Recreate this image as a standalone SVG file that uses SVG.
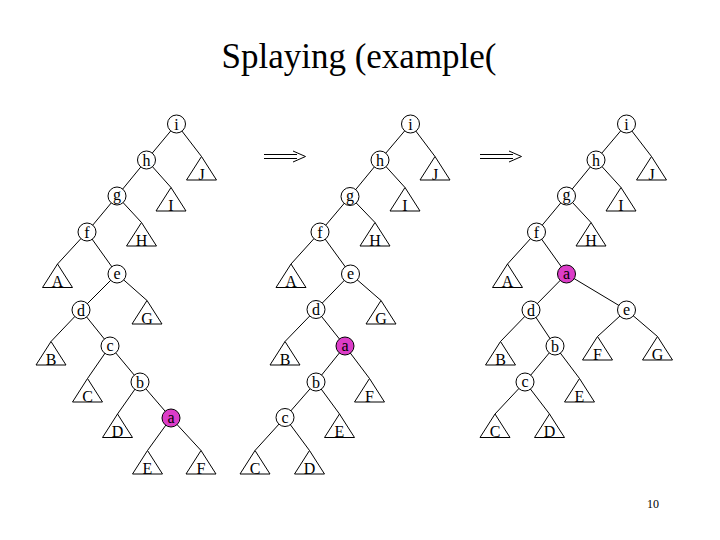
<svg xmlns="http://www.w3.org/2000/svg" xmlns:xlink="http://www.w3.org/1999/xlink" width="720" height="540" viewBox="0 0 720 540">
<style>
.e{stroke:#000;stroke-width:1;fill:none}
.n{fill:#fff;stroke:#000;stroke-width:1}
.m{fill:#DC3CC8;stroke:#000;stroke-width:1}
.t{fill:#fff;stroke:#000;stroke-width:1}
.l{font-family:"Liberation Serif","Times New Roman",serif;font-size:16px;text-anchor:middle;fill:#000}
.pg{font-family:"Liberation Serif","Times New Roman",serif;font-size:12px;text-anchor:middle;fill:#000}
</style>
<defs>
<path id="tri" d="M0,0 L15,23.5 L-15,23.5 Z"/>
</defs>
<rect width="720" height="540" fill="#fff"/>
<text x="359" y="68" font-family="'Liberation Serif','Times New Roman',serif" font-size="35" text-anchor="middle" fill="#000">Splaying (example(</text>
<g id="connectors" class="e">
<path d="M176.5,124 L146.5,160 M176.5,124 L201.5,156.5 M146.5,160 L117,196 M146.5,160 L171,187.5 M117,196 L87,232 M117,196 L141.5,222.5 M87,232 L57.5,264 M87,232 L117,274 M117,274 L81,310 M117,274 L147,300.5 M81,310 L51,341.5 M81,310 L110,346 M110,346 L87.5,378.5 M110,346 L140,382 M140,382 L117.5,414 M140,382 L171,418 M171,418 L147.5,450.5 M171,418 L201,450.5"/>
<path d="M410.5,124 L380,160 M410.5,124 L435,156.5 M380,160 L350,196.5 M380,160 L405,187.5 M350,196.5 L320,232 M350,196.5 L375,222.5 M320,232 L291,264 M320,232 L350.5,274 M350.5,274 L316,309.5 M350.5,274 L381,300.5 M316,309.5 L285,341.5 M316,309.5 L345,346 M345,346 L316,382 M345,346 L369.5,378.5 M316,382 L285,417.5 M316,382 L339.5,414 M285,417.5 L255,450.5 M285,417.5 L309.5,450.5"/>
<path d="M626.5,124 L596,160 M626.5,124 L651.5,156.5 M596,160 L566.5,196 M596,160 L621,187.5 M566.5,196 L536.5,232 M566.5,196 L591,222.5 M536.5,232 L507.5,264 M536.5,232 L566.5,274 M566.5,274 L531,310 M566.5,274 L626.5,310 M531,310 L500.5,341.5 M531,310 L555,346 M555,346 L525,382 M555,346 L579.5,378.5 M525,382 L495,414 M525,382 L549.5,414 M626.5,310 L597.5,336.5 M626.5,310 L657.5,336.5"/>
<path d="M264,154.5 H297 M264,158.5 H297 M293,151 L305.5,156.5 L293,162"/>
<path d="M480,154.5 H513 M480,158.5 H513 M509,151 L521.5,156.5 L509,162"/>
</g>
<g id="t1-i"><circle class="n" cx="176.5" cy="124" r="9"/><text class="l" x="176.5" y="129.5">i</text></g>
<g id="t1-h"><circle class="n" cx="146.5" cy="160" r="9"/><text class="l" x="146.5" y="165.5">h</text></g>
<g id="t1-g"><circle class="n" cx="117" cy="196" r="9"/><text class="l" x="117" y="200">g</text></g>
<g id="t1-f"><circle class="n" cx="87" cy="232" r="9"/><text class="l" x="87" y="237.5">f</text></g>
<g id="t1-e"><circle class="n" cx="117" cy="274" r="9"/><text class="l" x="117" y="279">e</text></g>
<g id="t1-d"><circle class="n" cx="81" cy="310" r="9"/><text class="l" x="81" y="315.5">d</text></g>
<g id="t1-c"><circle class="n" cx="110" cy="346" r="9"/><text class="l" x="110" y="351">c</text></g>
<g id="t1-b"><circle class="n" cx="140" cy="382" r="9"/><text class="l" x="140" y="387.5">b</text></g>
<g id="t1-a"><circle class="m" cx="171" cy="418" r="9"/><text class="l" x="171" y="423">a</text></g>
<g id="t1-J"><use xlink:href="#tri" class="t" x="201.5" y="156.5"/><text class="l" x="201.5" y="179.5">J</text></g>
<g id="t1-I"><use xlink:href="#tri" class="t" x="171" y="187.5"/><text class="l" x="171" y="210.5">I</text></g>
<g id="t1-H"><use xlink:href="#tri" class="t" x="141.5" y="222.5"/><text class="l" x="141.5" y="245.5">H</text></g>
<g id="t1-A"><use xlink:href="#tri" class="t" x="57.5" y="264"/><text class="l" x="57.5" y="287">A</text></g>
<g id="t1-G"><use xlink:href="#tri" class="t" x="147" y="300.5"/><text class="l" x="147" y="323.5">G</text></g>
<g id="t1-B"><use xlink:href="#tri" class="t" x="51" y="341.5"/><text class="l" x="51" y="364.5">B</text></g>
<g id="t1-C"><use xlink:href="#tri" class="t" x="87.5" y="378.5"/><text class="l" x="87.5" y="401.5">C</text></g>
<g id="t1-D"><use xlink:href="#tri" class="t" x="117.5" y="414"/><text class="l" x="117.5" y="437">D</text></g>
<g id="t1-E"><use xlink:href="#tri" class="t" x="147.5" y="450.5"/><text class="l" x="147.5" y="473.5">E</text></g>
<g id="t1-F"><use xlink:href="#tri" class="t" x="201" y="450.5"/><text class="l" x="201" y="473.5">F</text></g>
<g id="t2-i"><circle class="n" cx="410.5" cy="124" r="9"/><text class="l" x="410.5" y="129.5">i</text></g>
<g id="t2-h"><circle class="n" cx="380" cy="160" r="9"/><text class="l" x="380" y="165.5">h</text></g>
<g id="t2-g"><circle class="n" cx="350" cy="196.5" r="9"/><text class="l" x="350" y="200.5">g</text></g>
<g id="t2-f"><circle class="n" cx="320" cy="232" r="9"/><text class="l" x="320" y="237.5">f</text></g>
<g id="t2-e"><circle class="n" cx="350.5" cy="274" r="9"/><text class="l" x="350.5" y="279">e</text></g>
<g id="t2-d"><circle class="n" cx="316" cy="309.5" r="9"/><text class="l" x="316" y="315">d</text></g>
<g id="t2-a"><circle class="m" cx="345" cy="346" r="9"/><text class="l" x="345" y="351">a</text></g>
<g id="t2-b"><circle class="n" cx="316" cy="382" r="9"/><text class="l" x="316" y="387.5">b</text></g>
<g id="t2-c"><circle class="n" cx="285" cy="417.5" r="9"/><text class="l" x="285" y="422.5">c</text></g>
<g id="t2-J"><use xlink:href="#tri" class="t" x="435" y="156.5"/><text class="l" x="435" y="179.5">J</text></g>
<g id="t2-I"><use xlink:href="#tri" class="t" x="405" y="187.5"/><text class="l" x="405" y="210.5">I</text></g>
<g id="t2-H"><use xlink:href="#tri" class="t" x="375" y="222.5"/><text class="l" x="375" y="245.5">H</text></g>
<g id="t2-A"><use xlink:href="#tri" class="t" x="291" y="264"/><text class="l" x="291" y="287">A</text></g>
<g id="t2-G"><use xlink:href="#tri" class="t" x="381" y="300.5"/><text class="l" x="381" y="323.5">G</text></g>
<g id="t2-B"><use xlink:href="#tri" class="t" x="285" y="341.5"/><text class="l" x="285" y="364.5">B</text></g>
<g id="t2-F"><use xlink:href="#tri" class="t" x="369.5" y="378.5"/><text class="l" x="369.5" y="401.5">F</text></g>
<g id="t2-E"><use xlink:href="#tri" class="t" x="339.5" y="414"/><text class="l" x="339.5" y="437">E</text></g>
<g id="t2-C"><use xlink:href="#tri" class="t" x="255" y="450.5"/><text class="l" x="255" y="473.5">C</text></g>
<g id="t2-D"><use xlink:href="#tri" class="t" x="309.5" y="450.5"/><text class="l" x="309.5" y="473.5">D</text></g>
<g id="t3-i"><circle class="n" cx="626.5" cy="124" r="9"/><text class="l" x="626.5" y="129.5">i</text></g>
<g id="t3-h"><circle class="n" cx="596" cy="160" r="9"/><text class="l" x="596" y="165.5">h</text></g>
<g id="t3-g"><circle class="n" cx="566.5" cy="196" r="9"/><text class="l" x="566.5" y="200">g</text></g>
<g id="t3-f"><circle class="n" cx="536.5" cy="232" r="9"/><text class="l" x="536.5" y="237.5">f</text></g>
<g id="t3-a"><circle class="m" cx="566.5" cy="274" r="9"/><text class="l" x="566.5" y="279">a</text></g>
<g id="t3-d"><circle class="n" cx="531" cy="310" r="9"/><text class="l" x="531" y="315.5">d</text></g>
<g id="t3-e"><circle class="n" cx="626.5" cy="310" r="9"/><text class="l" x="626.5" y="315">e</text></g>
<g id="t3-b"><circle class="n" cx="555" cy="346" r="9"/><text class="l" x="555" y="351.5">b</text></g>
<g id="t3-c"><circle class="n" cx="525" cy="382" r="9"/><text class="l" x="525" y="387">c</text></g>
<g id="t3-J"><use xlink:href="#tri" class="t" x="651.5" y="156.5"/><text class="l" x="651.5" y="179.5">J</text></g>
<g id="t3-I"><use xlink:href="#tri" class="t" x="621" y="187.5"/><text class="l" x="621" y="210.5">I</text></g>
<g id="t3-H"><use xlink:href="#tri" class="t" x="591" y="222.5"/><text class="l" x="591" y="245.5">H</text></g>
<g id="t3-A"><use xlink:href="#tri" class="t" x="507.5" y="264"/><text class="l" x="507.5" y="287">A</text></g>
<g id="t3-B"><use xlink:href="#tri" class="t" x="500.5" y="341.5"/><text class="l" x="500.5" y="364.5">B</text></g>
<g id="t3-F"><use xlink:href="#tri" class="t" x="597.5" y="336.5"/><text class="l" x="597.5" y="359.5">F</text></g>
<g id="t3-G"><use xlink:href="#tri" class="t" x="657.5" y="336.5"/><text class="l" x="657.5" y="359.5">G</text></g>
<g id="t3-E"><use xlink:href="#tri" class="t" x="579.5" y="378.5"/><text class="l" x="579.5" y="401.5">E</text></g>
<g id="t3-C"><use xlink:href="#tri" class="t" x="495" y="414"/><text class="l" x="495" y="437">C</text></g>
<g id="t3-D"><use xlink:href="#tri" class="t" x="549.5" y="414"/><text class="l" x="549.5" y="437">D</text></g>
<text class="pg" x="653" y="508">10</text>
</svg>
